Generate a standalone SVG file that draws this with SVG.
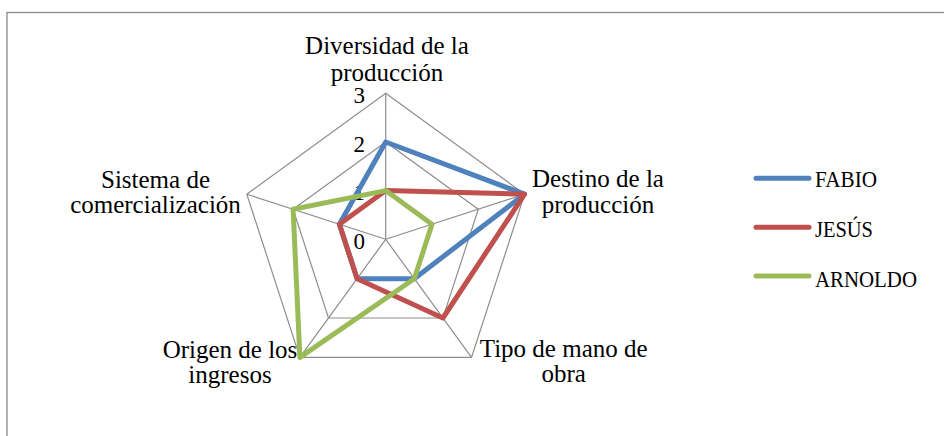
<svg xmlns="http://www.w3.org/2000/svg" width="944" height="436" viewBox="0 0 944 436">
<style>
.frame{fill:none;stroke:#8a8a8a;stroke-width:1.3}
.grid{fill:none;stroke:#8e8e8e;stroke-width:1.2}
.s{fill:none;stroke-width:5;stroke-linejoin:round;stroke-linecap:round}
.fabio{stroke:#4f81bd}
.jesus{stroke:#c0504d}
.arnoldo{stroke:#9bbb59}
text{font-family:"Liberation Serif","Times New Roman",serif;fill:#000}
.lbl{font-size:25px;text-anchor:middle}
.tick{font-size:23px;text-anchor:end}
.leg{font-size:23px}
.legline{stroke-width:5;stroke-linecap:round}
</style>
<rect class="frame" x="7" y="12.5" width="945" height="430" fill="#fff"/>
<g id="grid">
<polygon class="grid" points="385.7,93.3 524.6,194.2 471.5,357.4 299.9,357.4 246.8,194.2"/>
<polygon class="grid" points="385.7,142 478.3,209.2 442.9,318 328.5,318 293.1,209.2"/>
<polygon class="grid" points="385.7,190.6 432,224.3 414.3,278.7 357.1,278.7 339.4,224.3"/>
<path class="grid" d="M385.7,239.3L385.7,93.3M385.7,239.3L524.6,194.2M385.7,239.3L471.5,357.4M385.7,239.3L299.9,357.4M385.7,239.3L246.8,194.2"/>
</g>
<g id="ticks">
<text class="tick" x="365" y="102.5">3</text>
<text class="tick" x="365" y="151.5">2</text>
<text class="tick" x="365" y="200">1</text>
<text class="tick" x="365" y="248.5">0</text>
</g>
<g id="series">
<polygon id="fabio" class="s fabio" points="385.7,142 524.6,194.2 414.3,278.7 357.1,278.7 339.4,224.3"/>
<polygon id="jesus" class="s jesus" points="385.7,190.6 524.6,194.2 442.9,318 357.1,278.7 339.4,224.3"/>
<polygon id="arnoldo" class="s arnoldo" points="385.7,190.6 432,224.3 414.3,278.7 299.9,357.4 293.1,209.2"/>
</g>
<g id="axis-labels">
<text class="lbl" x="387" y="54">Diversidad de la</text>
<text class="lbl" x="387" y="80.5">producción</text>
<text class="lbl" x="598" y="187.3">Destino de la</text>
<text class="lbl" x="598" y="213.3">producción</text>
<text class="lbl" x="563.7" y="357">Tipo de mano de</text>
<text class="lbl" x="563.7" y="382">obra</text>
<text class="lbl" x="230" y="358">Origen de los</text>
<text class="lbl" x="230" y="383">ingresos</text>
<text class="lbl" x="155.5" y="188.3">Sistema de</text>
<text class="lbl" x="155.5" y="213.3">comercialización</text>
</g>
<g id="legend">
<line class="legline fabio" x1="756" y1="178.3" x2="809" y2="178.3"/>
<text class="leg" x="815" y="187.3" textLength="62" lengthAdjust="spacingAndGlyphs">FABIO</text>
<line class="legline jesus" x1="756" y1="227.3" x2="809" y2="227.3"/>
<text class="leg" x="815" y="237" textLength="58" lengthAdjust="spacingAndGlyphs">JESÚS</text>
<line class="legline arnoldo" x1="756" y1="276" x2="809" y2="276"/>
<text class="leg" x="815" y="286.5" textLength="102" lengthAdjust="spacingAndGlyphs">ARNOLDO</text>
</g>
</svg>
